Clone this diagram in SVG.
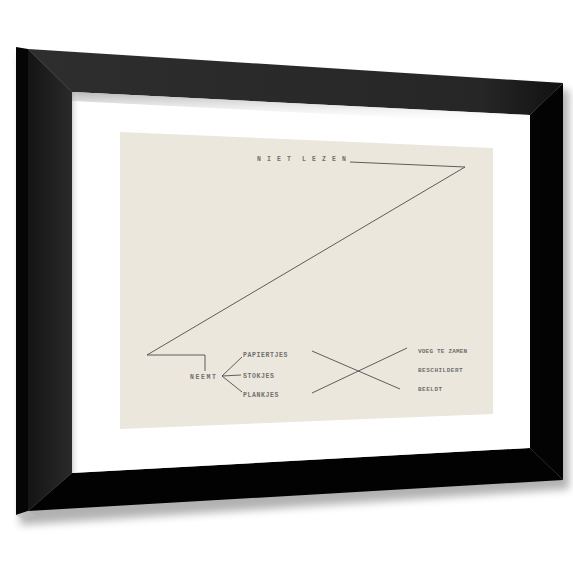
<svg xmlns="http://www.w3.org/2000/svg" width="573" height="573" viewBox="0 0 573 573">
<defs>
<filter id="blur" x="-10%" y="-10%" width="120%" height="130%"><feGaussianBlur stdDeviation="4"/></filter>
<linearGradient id="topbar" x1="0" y1="0" x2="1" y2="0"><stop offset="0" stop-color="#2e2e2e"/><stop offset="0.85" stop-color="#262626"/><stop offset="1" stop-color="#111"/></linearGradient>
<linearGradient id="leftbar" x1="0" y1="0" x2="1" y2="0"><stop offset="0" stop-color="#141414"/><stop offset="1" stop-color="#2a2a2a"/></linearGradient>
<linearGradient id="matshade" x1="0" y1="0" x2="0" y2="1"><stop offset="0" stop-color="#9a9a9a" stop-opacity="0.7"/><stop offset="1" stop-color="#ffffff" stop-opacity="0"/></linearGradient>
<linearGradient id="matshadeL" x1="0" y1="0" x2="1" y2="0"><stop offset="0" stop-color="#aaaaaa" stop-opacity="0.5"/><stop offset="1" stop-color="#ffffff" stop-opacity="0"/></linearGradient>
<style>
.t{font-family:"Liberation Mono","DejaVu Sans Mono",monospace;font-weight:bold;fill:#707070;font-size:6.5px}
.ln{stroke:#4d4d4d;stroke-width:0.9;fill:none}
</style>
</defs>
<rect width="573" height="573" fill="#ffffff"/>
<g id="frame">
<polygon points="20,56 569,90 569,489 20,525" fill="#000" opacity="0.3" filter="url(#blur)"/>
<polygon points="16,47 28,49 28,511 16,515" fill="#050505"/>
<polygon points="16,515 28,511 36,516 22,519" fill="#bdbdbd" opacity="0.6"/>
<polygon points="28,49 563,83 530,115 72,92" fill="url(#topbar)"/>
<polygon points="28,49 72,92 72,473 28,511" fill="url(#leftbar)"/>
<polygon points="563,83 563,480 530,448 530,115" fill="#030303"/>
<polygon points="72,473 530,448 563,480 28,511" fill="#020202"/>
<line x1="28" y1="49" x2="72" y2="92" stroke="#3c3c3c" stroke-width="0.8"/>
</g>
<g id="mat">
<polygon points="72,92 530,115 530,448 72,473" fill="#ffffff"/>
<polygon points="72,92 530,115 530,124 72,101" fill="url(#matshade)"/>
<polygon points="72,92 80,93 80,472 72,473" fill="url(#matshadeL)"/>
</g>
<g id="paper">
<polygon points="120,132 493,148 493,414 120,429" fill="#ece7dc"/>
</g>
<g id="connectors">
<polyline class="ln" points="350,162 465,167 147,355 205,355 205,371"/>
<line class="ln" x1="222" y1="376" x2="242" y2="357"/>
<line class="ln" x1="222" y1="376" x2="241" y2="375"/>
<line class="ln" x1="222" y1="376" x2="242" y2="392"/>
<line class="ln" x1="312" y1="351" x2="400" y2="389"/>
<line class="ln" x1="312" y1="393" x2="407" y2="348"/>
</g>
<g id="niet-lezen">
<text class="t" x="257" y="161" style="letter-spacing:6.1px">NIET</text>
<text class="t" x="302" y="161" style="letter-spacing:6.1px">LEZEN</text>
</g>
<g id="neemt"><text class="t" x="190" y="378.5" style="letter-spacing:1.6px">NEEMT</text></g>
<g id="papiertjes"><text class="t" x="243" y="356.5" style="letter-spacing:0.6px">PAPIERTJES</text></g>
<g id="stokjes"><text class="t" x="243" y="377.5" style="letter-spacing:0.6px">STOKJES</text></g>
<g id="plankjes"><text class="t" x="243" y="396.5" style="letter-spacing:0.6px">PLANKJES</text></g>
<g id="voeg-te-zamen"><text class="t" x="418" y="352.5" style="font-size:6px;letter-spacing:0.2px">VOEG TE ZAMEN</text></g>
<g id="beschildert"><text class="t" x="418" y="371.5" style="font-size:6px;letter-spacing:0.5px">BESCHILDERT</text></g>
<g id="beeldt"><text class="t" x="418" y="390.5" style="font-size:6px;letter-spacing:0.5px">BEELDT</text></g>
</svg>
